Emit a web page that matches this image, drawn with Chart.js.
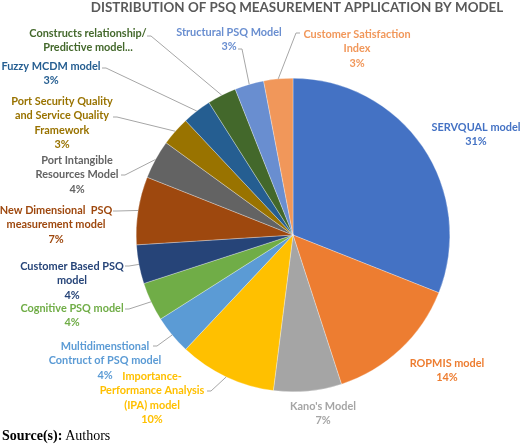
<!DOCTYPE html>
<html>
<head>
<meta charset="utf-8">
<script src="https://cdn.jsdelivr.net/npm/chart.js@4/dist/chart.umd.min.js"></script>
<style>
  body { margin: 0; background: #fff; }
  #wrap { position: relative; width: 520px; height: 445px; }
  #source { position: absolute; left: 2px; top: 428px; font-family: "Liberation Serif", serif; font-size: 14px; color: #000; }
</style>
</head>
<body>
<div id="wrap">
  <canvas id="pie" width="520" height="445"></canvas>
  <div id="source"><b>Source(s):</b> Authors</div>
</div>
<script>
// Datos del gráfico
const titleText = "DISTRIBUTION OF PSQ MEASUREMENT APPLICATION BY MODEL";
const models = [
  ["SERVQUAL model"],
  ["ROPMIS model"],
  ["Kano's Model"],
  ["Importance-", "Performance Analysis", "(IPA) model"],
  ["Multidimenstional", "Contruct of PSQ model"],
  ["Cognitive PSQ model"],
  ["Customer Based PSQ", "model"],
  ["New Dimensional  PSQ", "measurement model"],
  ["Port Intangible", "Resources Model"],
  ["Port Security Quality", "and Service Quality", "Framework"],
  ["Fuzzy MCDM model"],
  ["Constructs relationship/", "Predictive model..."],
  ["Structural PSQ Model"],
  ["Customer Satisfaction", "Index"]
];
const shares = [31, 14, 7, 10, 4, 4, 4, 7, 4, 3, 3, 3, 3, 3];
const colors = ["#4472C4", "#ED7D31", "#A5A5A5", "#FFC000", "#5B9BD5", "#70AD47", "#264478",
                "#9E480E", "#636363", "#997300", "#255E91", "#43682B", "#698ED0", "#F1975A"];

// Posición de las etiquetas (centro del texto, primera línea, punto de inicio de la guía)
const labelPos = [
  { x: 476, y: 127 },
  { x: 447, y: 363 },
  { x: 323, y: 406 },
  { x: 152, y: 376, lead: [207, 391] },
  { x: 105, y: 346, lead: [153, 346] },
  { x: 72, y: 308, lead: [125, 309] },
  { x: 72, y: 266, lead: [125, 266] },
  { x: 56, y: 210, lead: [113, 211] },
  { x: 77, y: 160, lead: [121, 175] },
  { x: 62, y: 101, lead: [113, 117] },
  { x: 51, y: 66, lead: [102, 68] },
  { x: 88, y: 33, lead: [147, 36], noPct: true },
  { x: 229, y: 32, lead: [238, 49] },
  { x: 357, y: 34, lead: [300, 33] }
];

const labelPlugin = {
  id: "labels",
  afterDatasetsDraw(chart) {
    const ctx = chart.ctx;
    const arcs = chart.getDatasetMeta(0).data;
    ctx.save();
    // Título (ajustado al ancho del original, ~413px)
    ctx.font = "bold 14px Lato";
    const size = 14 * 413 / ctx.measureText(titleText).width;
    ctx.font = "bold " + size.toFixed(2) + "px Lato";
    ctx.fillStyle = "#595959";
    ctx.textAlign = "center";
    ctx.textBaseline = "middle";
    ctx.fillText(titleText, 297, 8);

    ctx.font = "bold 10.9px Lato";
    arcs.forEach((arc, i) => {
      const p = labelPos[i];
      const lines = models[i].slice();
      if (!p.noPct) lines.push(shares[i] + "%");
      // Línea guía hasta el borde del sector
      if (p.lead) {
        const mid = (arc.startAngle + arc.endAngle) / 2;
        const ex = arc.x + Math.cos(mid) * arc.outerRadius;
        const ey = arc.y + Math.sin(mid) * arc.outerRadius;
        const dir = ex > p.lead[0] ? 4 : -4;
        ctx.strokeStyle = "#A6A6A6";
        ctx.lineWidth = 1;
        ctx.beginPath();
        ctx.moveTo(p.lead[0], p.lead[1]);
        ctx.lineTo(p.lead[0] + dir, p.lead[1]);
        ctx.lineTo(ex, ey);
        ctx.stroke();
      }
      ctx.fillStyle = colors[i];
      lines.forEach((t, k) => ctx.fillText(t, p.x, p.y + k * 14.5));
    });
    ctx.restore();
  }
};

new Chart(document.getElementById("pie"), {
  type: "pie",
  data: {
    labels: models.map(m => m.join(" ")),
    datasets: [{
      data: shares,
      backgroundColor: colors,
      borderColor: "#ffffff",
      borderWidth: 0.3
    }]
  },
  options: {
    responsive: false,
    animation: false,
    layout: { padding: { left: 136, right: 70, top: 78, bottom: 53 } },
    plugins: {
      legend: { display: false },
      tooltip: { enabled: false },
      title: { display: false }
    }
  },
  plugins: [labelPlugin]
});
</script>
</body>
</html>
